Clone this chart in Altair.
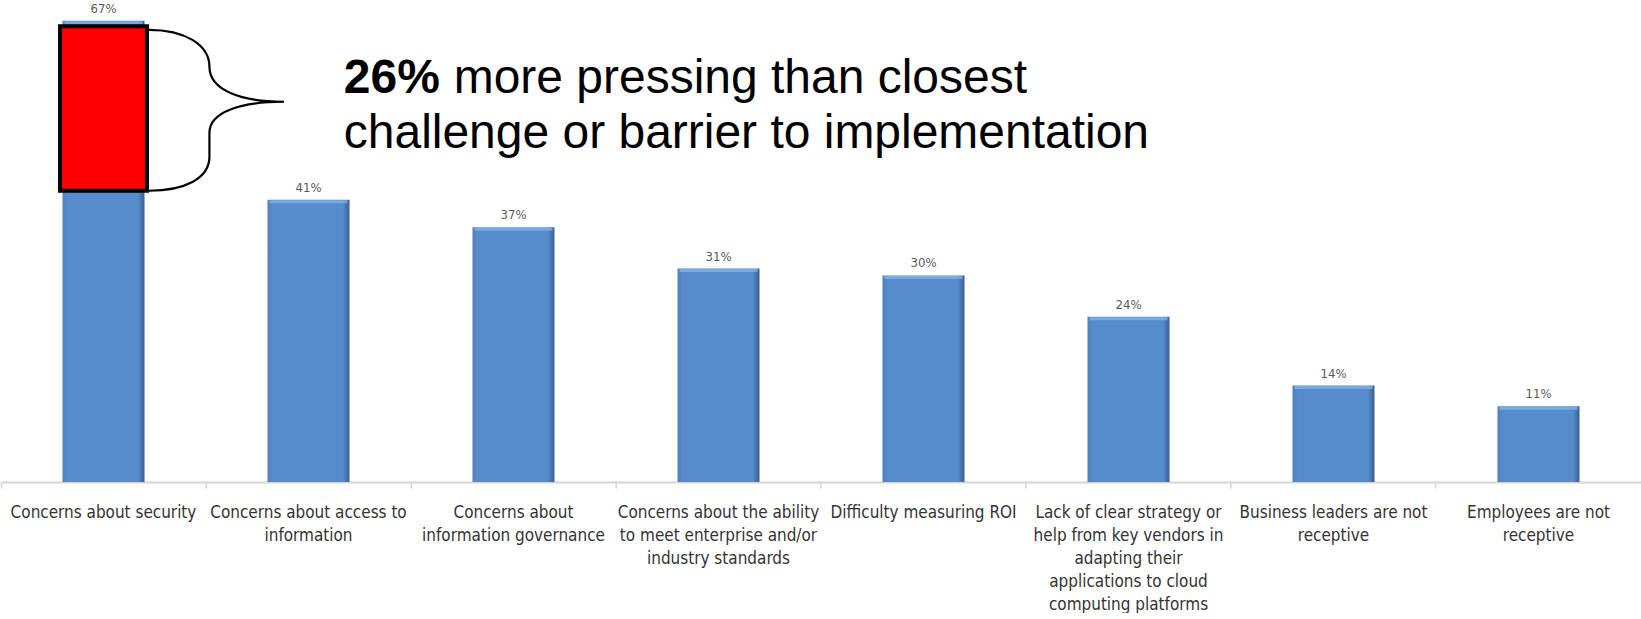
import altair as alt
import pandas as pd

categories = [
    "Concerns about security",
    "Concerns about access to information",
    "Concerns about information governance",
    "Concerns about the ability to meet enterprise and/or industry standards",
    "Difficulty measuring ROI",
    "Lack of clear strategy or help from key vendors in adapting their applications to cloud computing platforms",
    "Business leaders are not receptive",
    "Employees are not receptive",
]
wrapped_labels = [
    "Concerns about security",
    "Concerns about access to\ninformation",
    "Concerns about\ninformation governance",
    "Concerns about the ability\nto meet enterprise and/or\nindustry standards",
    "Difficulty measuring ROI",
    "Lack of clear strategy or\nhelp from key vendors in\nadapting their\napplications to cloud\ncomputing platforms",
    "Business leaders are not\nreceptive",
    "Employees are not\nreceptive",
]
values = [67, 41, 37, 31, 30, 24, 14, 11]

# highlight box spans the gap between the top bar and the runner-up
box_top = [66.2]
box_bottom = [42.3]
brace_mid = [(values[0] + values[1]) / 2]

headline_bold = ["26%"]
headline_line1 = ["more pressing than closest"]
headline_line2 = ["challenge or barrier to implementation"]

df = pd.DataFrame({
    "category": categories,
    "label": wrapped_labels,
    "value": values,
    "vlabel": [f"{v}%" for v in values],
})
df_box = pd.DataFrame({"category": [categories[0]], "top": box_top, "bottom": box_bottom, "mid": brace_mid})

LABEL_FONT = "DejaVu Sans Condensed, sans-serif"
HEAD_FONT = "Liberation Sans, Arial, sans-serif"

x_enc = alt.X(
    "category:N",
    sort=categories,
    scale=alt.Scale(paddingInner=0, paddingOuter=0),
    axis=alt.Axis(
        title=None, labels=False, bandPosition=0,
        domainColor="#d4d4d4", domainWidth=2,
        tickColor="#d4d4d4", tickSize=6, tickWidth=1.5,
    ),
)
y_enc = alt.Y("value:Q", scale=alt.Scale(domain=[0, 70], nice=False), axis=None)

bar_fill = alt.Gradient(
    gradient="linear",
    stops=[
        alt.GradientStop(color="#4f80bd", offset=0),
        alt.GradientStop(color="#568bcc", offset=0.06),
        alt.GradientStop(color="#568bcc", offset=0.92),
        alt.GradientStop(color="#3a5f8e", offset=1),
    ],
    x1=0, x2=1, y1=0, y2=0,
)

base = alt.Chart(df)

bars = base.mark_bar(width=alt.RelativeBandSize(0.4), color=bar_fill).encode(x=x_enc, y=y_enc)
top_hl = base.mark_tick(color="#8fb5e6", thickness=3, size=78, yOffset=2).encode(x=x_enc, y=y_enc)
vlabels = base.mark_text(
    font=LABEL_FONT, fontSize=13, color="#595959", baseline="alphabetic", dy=-8
).encode(x=x_enc, y=y_enc, text="vlabel:N")
clabels = base.mark_text(
    font=LABEL_FONT, fontSize=17, color="#333333", baseline="alphabetic",
    align="center", lineBreak="\n", lineHeight=23,
).encode(x=x_enc, y=alt.value(518), text="label:N")

box = alt.Chart(df_box).mark_bar(
    width=alt.RelativeBandSize(0.424), color="#ff0000", stroke="black", strokeWidth=4
).encode(x=x_enc, y=alt.Y("top:Q"), y2="bottom:Q")

brace_path = (
    "M -0.84 -1 C -0.4 -1 -0.087 -0.82 -0.087 -0.54 "
    "C -0.087 -0.25 0.3 -0.106 0.84 -0.106 "
    "C 0.3 -0.106 -0.087 0.02 -0.087 0.28 "
    "L -0.087 0.578 "
    "C -0.087 0.85 -0.4 1 -0.84 1"
)
brace = alt.Chart(df_box).mark_point(
    shape=brace_path, size=161 * 161, filled=False, color="black",
    strokeWidth=2.2, opacity=1, xOffset=113,
).encode(x=x_enc, y=alt.Y("mid:Q"))

h1 = alt.Chart(pd.DataFrame({"t": headline_bold})).mark_text(
    font=HEAD_FONT, fontSize=48, fontWeight="bold", align="left", baseline="alphabetic", color="black"
).encode(text="t:N", x=alt.value(343), y=alt.value(93))
h2 = alt.Chart(pd.DataFrame({"t": headline_line1})).mark_text(
    font=HEAD_FONT, fontSize=48, align="left", baseline="alphabetic", color="black"
).encode(text="t:N", x=alt.value(453), y=alt.value(93))
h3 = alt.Chart(pd.DataFrame({"t": headline_line2})).mark_text(
    font=HEAD_FONT, fontSize=48, align="left", baseline="alphabetic", color="black"
).encode(text="t:N", x=alt.value(343), y=alt.value(148))

chart = alt.layer(bars, top_hl, vlabels, clabels, box, brace, h1, h2, h3).properties(
    width=1641, height=482, padding=0, background="white"
).configure_view(stroke=None)

chart.save("out.html", embed_options={"renderer": "svg", "actions": False})
